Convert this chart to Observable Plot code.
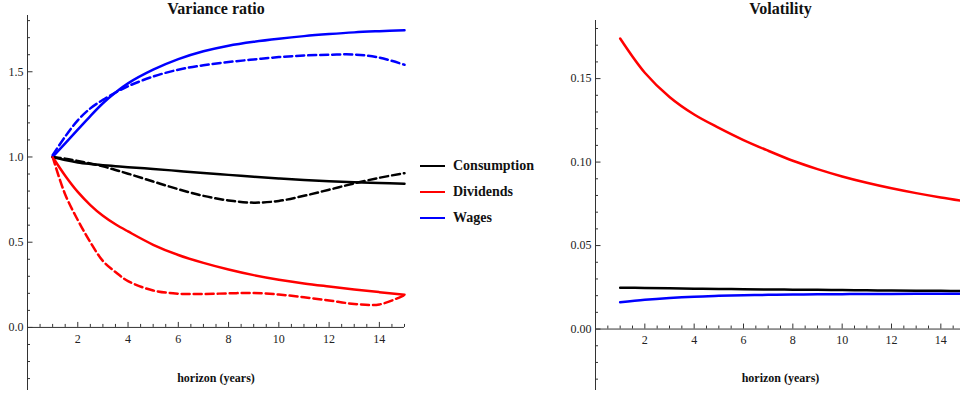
<!DOCTYPE html>
<html>
<head>
<meta charset="utf-8">
<script src="https://cdn.jsdelivr.net/npm/d3@7"></script>
<script src="https://cdn.jsdelivr.net/npm/@observablehq/plot@0.6"></script>
<style>
  body { margin: 0; background: #fff; }
  #wrap { position: relative; width: 960px; height: 396px; overflow: hidden; font-family: "Liberation Serif", "Times New Roman", serif; }
  #left { position: absolute; left: 0; top: 0; }
  #right { position: absolute; left: 540px; top: 0; }
  #legend { position: absolute; left: 420px; top: 153px; }
  .row { display: flex; align-items: center; height: 26px; font-weight: bold; font-size: 14px; color: #111; }
  .sw { width: 25px; height: 0; border-top: 2.5px solid; margin-right: 8px; }
</style>
</head>
<body>
<div id="wrap"><div id="left"></div><div id="legend"></div><div id="right"></div></div>
<script>
// ---------------- data ----------------
const seriesNames = ["Consumption", "Dividends", "Wages"];
const seriesColors = ["#000000", "#ff0000", "#0000ff"];

// Variance ratio panel (solid = model, dashed = data)
const horizonVR = [1, 1.5, 2, 2.5, 3, 3.5, 4, 5, 6, 7, 8, 9, 10, 11, 12, 13, 14, 15];
const vrConsumption       = [1.0, 0.982, 0.968, 0.959, 0.952, 0.946, 0.940, 0.930, 0.918, 0.906, 0.895, 0.884, 0.874, 0.865, 0.858, 0.852, 0.847, 0.843];
const vrConsumptionDashed = [1.0, 0.990, 0.977, 0.962, 0.945, 0.924, 0.902, 0.856, 0.811, 0.772, 0.745, 0.732, 0.742, 0.772, 0.808, 0.845, 0.878, 0.905];
const vrDividends         = [1.0, 0.890, 0.795, 0.718, 0.655, 0.605, 0.563, 0.485, 0.425, 0.379, 0.340, 0.307, 0.280, 0.258, 0.240, 0.223, 0.207, 0.192];
const vrDividendsDashed   = [1.0, 0.780, 0.630, 0.500, 0.390, 0.325, 0.272, 0.217, 0.198, 0.196, 0.200, 0.202, 0.193, 0.177, 0.158, 0.138, 0.135, 0.190];
const vrWages             = [1.0, 1.080, 1.160, 1.240, 1.315, 1.378, 1.432, 1.512, 1.574, 1.620, 1.653, 1.676, 1.694, 1.709, 1.721, 1.731, 1.738, 1.744];
const vrWagesDashed       = [1.01, 1.120, 1.215, 1.285, 1.335, 1.378, 1.415, 1.472, 1.512, 1.538, 1.557, 1.572, 1.586, 1.595, 1.600, 1.601, 1.583, 1.541];

// Volatility panel
const horizonVol = [1, 2, 3, 4, 5, 6, 7, 8, 9, 10, 11, 12, 13, 14, 15];
const volConsumption = [0.0248, 0.0246, 0.0244, 0.0242, 0.0240, 0.0239, 0.0237, 0.0236, 0.0235, 0.0234, 0.0232, 0.0231, 0.0230, 0.0229, 0.0227];
const volDividends   = [0.174, 0.1535, 0.139, 0.1285, 0.1205, 0.1132, 0.1068, 0.1008, 0.0958, 0.0914, 0.0876, 0.0843, 0.0814, 0.0788, 0.0765];
const volWages       = [0.0160, 0.0175, 0.0186, 0.0194, 0.0199, 0.0203, 0.0205, 0.0207, 0.0208, 0.0209, 0.0210, 0.0210, 0.0211, 0.0211, 0.0212];

// ticks
const xTickValues = [2, 4, 6, 8, 10, 12, 14];
const xTickLabels = ["2", "4", "6", "8", "10", "12", "14"];
const vrYTickValues = [0, 0.5, 1.0, 1.5];
const vrYTickLabels = ["0.0", "0.5", "1.0", "1.5"];
const volYTickValues = [0, 0.05, 0.10, 0.15];
const volYTickLabels = ["0.00", "0.05", "0.10", "0.15"];

const titles = ["Variance ratio", "Volatility"];
const xLabel = "horizon (years)";

// ---------------- helpers ----------------
function toRows(xs, ys, series) {
  return xs.map((h, i) => ({h, v: ys[i], series}));
}
const isMultiple = (d, step) => Math.abs(d / step - Math.round(d / step)) < 1e-6;
const axisColor = "#333";
const textColor = "#222";

function panel(cfg) {
  const {width, height, ml, mr, mt, mb, xDomain, yDomain, solid, dashed,
         yMajor, yLabels, yMinorStep, yMinorRange, xMinorMax, title, yLabelDx, xLabelDy} = cfg;
  const kx = (width - ml - mr) / (xDomain[1] - xDomain[0]);
  const ky = (height - mt - mb) / (yDomain[1] - yDomain[0]);
  const xMinor = d3.range(0.5, xMinorMax + 1e-9, 0.5).filter(d => !isMultiple(d, 2));
  const yMinor = d3.range(yMinorRange[0], yMinorRange[1] + 1e-9, yMinorStep).filter(d => !yMajor.some(m => Math.abs(m - d) < 1e-9));
  return Plot.plot({
    width, height,
    marginLeft: ml, marginRight: mr, marginTop: mt, marginBottom: mb,
    x: {domain: xDomain, axis: null},
    y: {domain: yDomain, axis: null},
    color: {domain: seriesNames, range: seriesColors},
    style: {fontFamily: '"Liberation Serif", "Times New Roman", serif', fontSize: "12px", background: "white", color: textColor, overflow: "hidden"},
    marks: [
      Plot.ruleX([0], {stroke: axisColor, strokeWidth: 1}),
      Plot.ruleY([0], {stroke: axisColor, strokeWidth: 1}),
      Plot.ruleX(xTickValues, {x: d => d, y1: 0, y2: 5 / ky, stroke: axisColor}),
      Plot.ruleX(xMinor, {x: d => d, y1: 0, y2: 3 / ky, stroke: axisColor}),
      Plot.ruleY(yMajor, {y: d => d, x1: 0, x2: 5.5 / kx, stroke: axisColor}),
      Plot.ruleY(yMinor, {y: d => d, x1: 0, x2: 3 / kx, stroke: axisColor}),
      Plot.text(xTickValues, {x: d => d, y: 0, dy: xLabelDy, text: (d, i) => xTickLabels[i], fill: textColor, fontSize: 12}),
      Plot.text(yMajor, {x: 0, y: d => d, dx: yLabelDx, textAnchor: "end", text: (d, i) => yLabels[i], fill: textColor, fontSize: 12}),
      Plot.line(solid, {x: "h", y: "v", z: "series", stroke: "series", strokeWidth: 2.5, curve: "catmull-rom"}),
      Plot.line(dashed, {x: "h", y: "v", z: "series", stroke: "series", strokeWidth: 2.5, strokeDasharray: "8,4", curve: "catmull-rom"}),
      Plot.text([title], {frameAnchor: "top", lineAnchor: "middle", dy: 8 - mt, fontWeight: "bold", fontSize: 16, fill: "#111"}),
      Plot.text([xLabel], {frameAnchor: "bottom", lineAnchor: "middle", dy: -12, fontWeight: "bold", fontSize: 12, fill: "#111"})
    ]
  });
}

// ---------------- left: variance ratio ----------------
const vrSolid = [
  ...toRows(horizonVR, vrConsumption, "Consumption"),
  ...toRows(horizonVR, vrDividends, "Dividends"),
  ...toRows(horizonVR, vrWages, "Wages")
];
const vrDashed = [
  ...toRows(horizonVR, vrConsumptionDashed, "Consumption"),
  ...toRows(horizonVR, vrDividendsDashed, "Dividends"),
  ...toRows(horizonVR, vrWagesDashed, "Wages")
];
document.getElementById("left").append(panel({
  width: 409, height: 396, ml: 27, mr: 5, mt: 15, mb: 6,
  xDomain: [0, 15], yDomain: [-0.37, 1.83],
  solid: vrSolid, dashed: vrDashed,
  yMajor: vrYTickValues, yLabels: vrYTickLabels, yMinorStep: 0.1, yMinorRange: [-0.3, 1.8],
  xMinorMax: 15, title: titles[0], yLabelDx: -4, xLabelDy: 12
}));

// ---------------- right: volatility ----------------
const volSolid = [
  ...toRows(horizonVol, volConsumption, "Consumption"),
  ...toRows(horizonVol, volDividends, "Dividends"),
  ...toRows(horizonVol, volWages, "Wages")
];
document.getElementById("right").append(panel({
  width: 420, height: 396, ml: 55, mr: -5, mt: 20, mb: 6,
  xDomain: [0, 15], yDomain: [-0.0368, 0.1848],
  solid: volSolid, dashed: [],
  yMajor: volYTickValues, yLabels: volYTickLabels, yMinorStep: 0.01, yMinorRange: [-0.03, 0.18],
  xMinorMax: 14.5, title: titles[1], yLabelDx: -4, xLabelDy: 11
}));

// ---------------- legend ----------------
const legend = document.getElementById("legend");
seriesNames.forEach((name, i) => {
  const row = document.createElement("div");
  row.className = "row";
  const sw = document.createElement("span");
  sw.className = "sw";
  sw.style.borderTopColor = seriesColors[i];
  const lab = document.createElement("span");
  lab.textContent = name;
  row.append(sw, lab);
  legend.append(row);
});
</script>
</body>
</html>
